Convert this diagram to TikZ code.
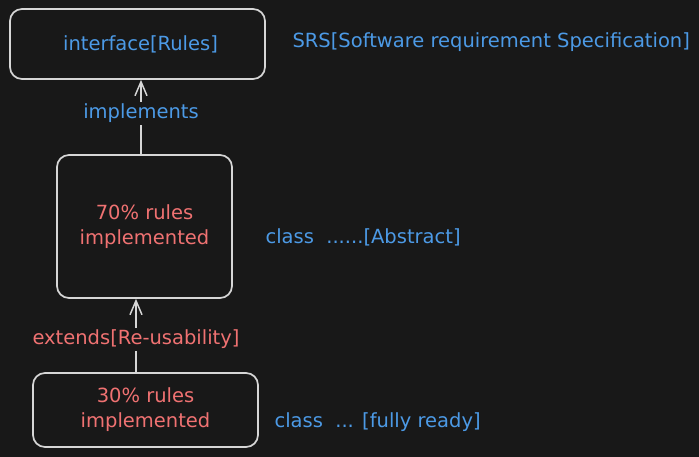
\documentclass[tikz,border=0pt]{standalone}
\usepackage{fontspec}
\setmainfont{DejaVu Sans}
\usetikzlibrary{arrows.meta}
\definecolor{bgdark}{HTML}{181818}
\definecolor{strokegray}{HTML}{D6D6D6}
\definecolor{textblue}{HTML}{4C9AE6}
\definecolor{textred}{HTML}{F07272}
\tikzset{
  rulebox/.style={draw=strokegray, line width=1.7pt, rounded corners=12pt, inner sep=0pt, align=center},
  bluetext/.style={text=textblue, font=\fontsize{19.5}{25}\selectfont},
  redtext/.style={text=textred, font=\fontsize{19.5}{25}\selectfont},
  linkarrow/.style={draw=strokegray, line width=1.7pt, -{Straight Barb[length=14pt,width=12pt,line width=1.5pt]}},
  linklabel/.style={fill=bgdark, inner sep=2pt},
}
\begin{document}
\begin{tikzpicture}[x=1pt,y=-1pt]
\fill[bgdark] (0,0) rectangle (699,457);
\useasboundingbox (0,0) rectangle (699,457);
% boxes
\node[rulebox, bluetext, minimum width=255pt, minimum height=70pt] (iface) at (137.5,44) {\hspace{6pt}interface[Rules]};
\node[rulebox, redtext, minimum width=175pt, minimum height=143pt] (abstract) at (144.5,226.5) {70\% rules\\implemented};
\node[rulebox, redtext, minimum width=225pt, minimum height=74pt] (ready) at (145.5,410) {30\% rules\\implemented};
% side notes
\node[bluetext, anchor=west] (srs) at (289,42) {SRS[Software requirement Specification]};
\node[bluetext, anchor=west] (abstractnote) at (262,237) {class\ \ ......[Abstract]};
\node[bluetext, anchor=west] (readynote) at (271,422) {class\ \ ... [fully ready]};
% arrows
\draw[linkarrow] ([xshift=-3.5pt]abstract.north) -- node[linklabel, bluetext, pos=0.55] (implabel) {implements} ([xshift=3.5pt]iface.south);
\draw[linkarrow] ([xshift=-9.5pt]ready.north) -- node[linklabel, redtext, pos=0.45] (extlabel) {extends[Re-usability]} ([xshift=-8.5pt]abstract.south);
\end{tikzpicture}
\end{document}
